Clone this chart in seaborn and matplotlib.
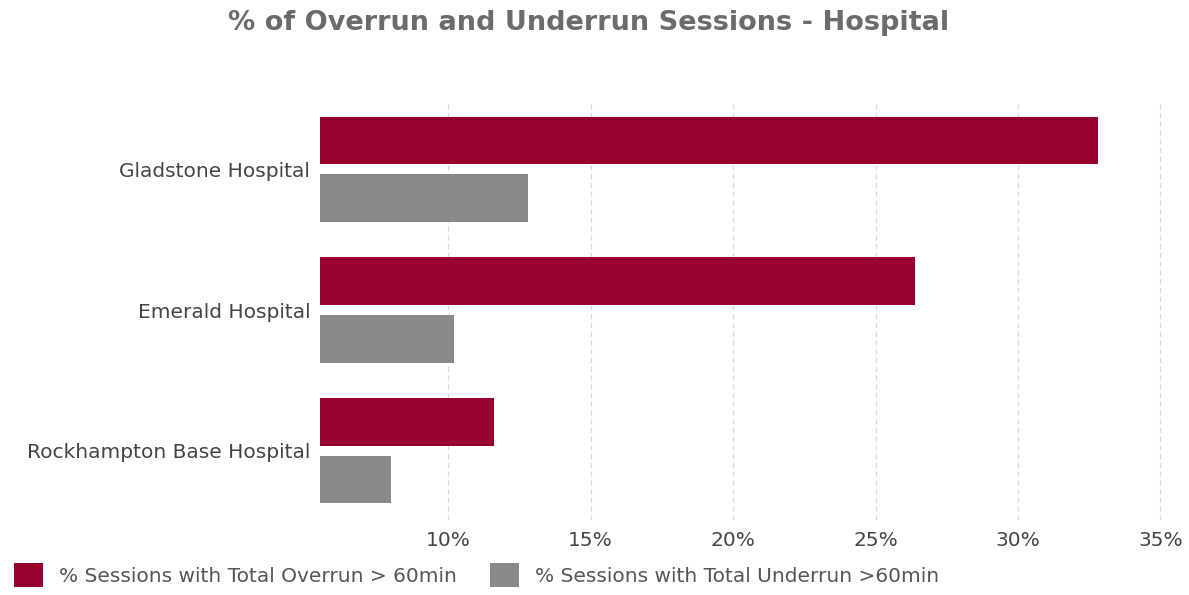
import matplotlib
matplotlib.use("Agg")
import matplotlib.pyplot as plt
import seaborn as sns
import pandas as pd
from matplotlib.patches import Patch
from matplotlib.ticker import FixedLocator

hospitals = ["Gladstone Hospital", "Emerald Hospital", "Rockhampton Base Hospital"]
overrun = [32.8, 26.4, 11.6]
underrun = [12.8, 10.2, 8.0]
series = ["% Sessions with Total Overrun > 60min", "% Sessions with Total Underrun >60min"]
ticks = [10, 15, 20, 25, 30, 35]
colors = ["#98002E", "#898989"]

df = pd.DataFrame({
    "Hospital": hospitals * 2,
    "Value": overrun + underrun,
    "Series": [series[0]] * 3 + [series[1]] * 3,
})

sns.set_style("white")
plt.rcParams["font.family"] = ["DejaVu Sans"]

fig = plt.figure(figsize=(11.89, 5.95), dpi=100)
ax = fig.add_axes([320 / 1189, 1 - 520 / 595, (1169 - 320) / 1189, 420 / 595])

sns.barplot(data=df, y="Hospital", x="Value", hue="Series", orient="h",
            palette=colors, width=0.81, gap=0.16, ax=ax, legend=False,
            saturation=1, edgecolor="none")

ax.set_xlim(5.5, 35.3)
ax.set_ylim(2.49, -0.49)
ax.xaxis.set_major_locator(FixedLocator(ticks))
ax.set_xticklabels([f"{t}%" for t in ticks])
ax.set_xlabel("")
ax.set_ylabel("")
for s in ax.spines.values():
    s.set_visible(False)
ax.grid(axis="x", color="#d9d9d9", linestyle=(0, (4, 3)), linewidth=0.9)
ax.set_axisbelow(True)
ax.tick_params(axis="x", length=8, color="#d9d9d9", pad=0, labelsize=14.5, labelcolor="#444444")
ax.tick_params(axis="y", length=0, pad=7, labelsize=14.5, labelcolor="#444444")

fig.text(0.495, 0.962, "% of Overrun and Underrun Sessions - Hospital", ha="center", va="center",
         fontsize=19.5, fontweight="bold", color="#6b6b6b")

handles = [Patch(facecolor=c, edgecolor="none") for c in colors]
fig.legend(handles, series, loc="lower left", bbox_to_anchor=(0.0, -0.01), ncol=2,
           frameon=False, fontsize=14.5, labelcolor="#555555", handlelength=1.45, handleheight=1.45,
           handletextpad=0.8, columnspacing=1.6, borderaxespad=0.3)

fig.savefig("out.png", dpi=100)
